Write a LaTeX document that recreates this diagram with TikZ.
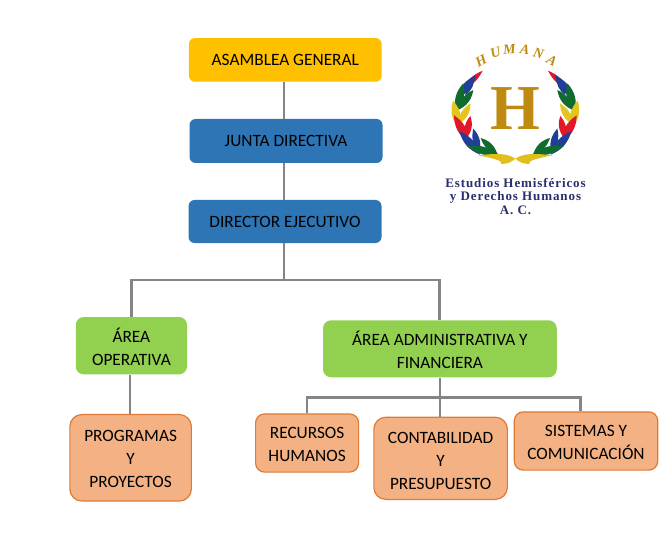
\documentclass[tikz,border=0pt]{standalone}
\usepackage{fontspec}
\setmainfont{Carlito}
\newfontfamily\logofont[LetterSpace=7]{Liberation Serif}
\newfontfamily\logoserif{Liberation Serif}
\usetikzlibrary{calc}
\definecolor{cYellow}{HTML}{FFC000}
\definecolor{cBlue}{HTML}{2E75B6}
\definecolor{cGreen}{HTML}{92D050}
\definecolor{cOrange}{HTML}{F4B183}
\definecolor{cOrangeEdge}{HTML}{DD7B36}
\definecolor{cLine}{HTML}{858585}
\definecolor{cGold}{HTML}{BE8A10}
\definecolor{cRibbon}{HTML}{E2BE1C}
\definecolor{cNavy}{HTML}{2A2E6E}
\definecolor{lRed}{HTML}{E3172A}
\definecolor{lBlue}{HTML}{1F3F98}
\definecolor{lGreen}{HTML}{0F6B2E}
\definecolor{lYellow}{HTML}{E3C51E}
\tikzset{
  x=1pt,y=-1pt,
  orgbox/.style={rounded corners=6pt,inner sep=0pt,align=center,text=black,
    font=\fontsize{17.3}{23}\selectfont},
  toptier/.style={orgbox,fill=cYellow},
  bluetier/.style={orgbox,fill=cBlue},
  greentier/.style={orgbox,fill=cGreen,rounded corners=8pt},
  orangetier/.style={orgbox,fill=cOrange,draw=cOrangeEdge,line width=1.2pt,rounded corners=10pt},
  link/.style={draw=cLine,line width=2pt},
  barlink/.style={draw=cLine,line width=2.6pt},
  hletter/.style={text=cGold,inner sep=0pt,font=\logoserif\bfseries\itshape\fontsize{14}{14}\selectfont},
  logoline/.style={text=cNavy,inner sep=0pt,font=\logofont\bfseries\fontsize{13}{13}\selectfont}
}
\newcommand{\dn}[1]{\rule{0pt}{#1pt}}
\newcommand{\leaf}[5]{\fill[#5] (#1,#2) to[bend left=#4] (#3) to[bend left=#4] (#1,#2);}
\newcommand{\wreathside}{%
  \leaf{-160}{180}{-98,122}{20}{lRed}
  \leaf{-176}{205}{-118,136}{26}{lBlue}
  \leaf{-150}{195}{-124,140}{30}{lBlue}
  \leaf{-178}{245}{-156,160}{28}{lGreen}
  \leaf{-172}{240}{-126,180}{28}{lGreen}
  \leaf{-168}{296}{-187,212}{30}{lYellow}
  \leaf{-172}{284}{-134,220}{28}{lYellow}
  \leaf{-140}{336}{-184,256}{28}{lRed}
  \leaf{-148}{326}{-135,258}{30}{lRed}
  \leaf{-106}{374}{-168,304}{26}{lBlue}
  \leaf{-108}{368}{-126,296}{28}{lBlue}
  \leaf{-46}{376}{-146,348}{22}{lGreen}
  \leaf{-54}{372}{-104,324}{28}{lGreen}
  \fill[cRibbon] (-112,376) .. controls (-70,372) and (-30,366) .. (0,386) .. controls (-10,396) and (-25,402) .. (-42,402) .. controls (-35,392) and (-70,384) .. cycle;
}
\begin{document}
\begin{tikzpicture}
\useasboundingbox[fill=white] (0,0) rectangle (663,545);

% boxes
\node[toptier,minimum width=192.7pt,minimum height=43.7pt] (asm) at (285.3,59.9) {ASAMBLEA GENERAL};
\node[bluetier,minimum width=193pt,minimum height=44pt] (jun) at (286,141) {JUNTA DIRECTIVA};
\node[bluetier,minimum width=193pt,minimum height=43pt] (dir) at (285,221.5) {DIRECTOR EJECUTIVO};
\node[greentier,minimum width=111.3pt,minimum height=57.3pt] (ope) at (131.4,345.7) {\dn{17}ÁREA\\OPERATIVA};
\node[greentier,minimum width=233.7pt,minimum height=57pt] (adm) at (439.9,348.8) {\dn{17}ÁREA ADMINISTRATIVA Y\\FINANCIERA};
\node[orangetier,minimum width=121.5pt,minimum height=86.5pt,rounded corners=12pt] (pro) at (130.6,457.8) {\dn{13}PROGRAMAS\\Y\\PROYECTOS};
\node[orangetier,minimum width=103pt,minimum height=58.2pt,rounded corners=9pt] (rec) at (307.1,443) {\dn{15}RECURSOS\\HUMANOS};
\node[orangetier,minimum width=133.5pt,minimum height=82.2pt,rounded corners=12pt] (con) at (440.6,458.3) {\dn{17}CONTABILIDAD\\Y\\PRESUPUESTO};
\node[orangetier,minimum width=143.5pt,minimum height=58.2pt,rounded corners=9pt] (sis) at (586,441) {\dn{15}SISTEMAS Y\\COMUNICACIÓN};

% reference points for the connector bars
\coordinate (trunk) at (284,0);
\coordinate (midbar) at (0,280);
\coordinate (lowbar) at (0,397.7);
\coordinate (opeX) at (131.7,0);
\coordinate (admX) at (439.3,0);
\coordinate (admDown) at (440.3,0);
\coordinate (proX) at (130,0);
\coordinate (sisX) at (580.7,0);

% connectors
\draw[link] (asm.south -| trunk) -- (jun.north -| trunk);
\draw[link] (jun.south -| trunk) -- (dir.north -| trunk);
\draw[link] (dir.south -| trunk) -- (midbar -| trunk);
\draw[barlink] (ope.north -| opeX) -- (midbar -| opeX) -- (midbar -| admX) -- (adm.north -| admX);
\draw[link] (ope.south -| proX) -- (pro.north -| proX);
\draw[link] (adm.south -| admDown) -- (con.north -| admDown);
\draw[barlink] (rec.north) -- (lowbar -| rec.north) -- (lowbar -| sisX) -- (sis.north -| sisX);

% logo
\begin{scope}[shift={(515.33pt,-30pt)},x=0.3333pt,y=-0.3333pt]
  \wreathside
\end{scope}
\begin{scope}[shift={(515.33pt,-30pt)},x=-0.3333pt,y=-0.3333pt]
  \wreathside
\end{scope}
\node[text=cGold,inner sep=0pt,font=\logoserif\bfseries\fontsize{64}{64}\selectfont] (bigh) at (515.3,108.5) {H};
\node[hletter,rotate=28] (h1) at (481,60.5) {H};
\node[hletter,rotate=18] (h2) at (495.5,53) {U};
\node[hletter,rotate=5] (h3) at (509.5,49.5) {M};
\node[hletter,rotate=-8] (h4) at (525,49.5) {A};
\node[hletter,rotate=-16] (h5) at (538.5,53) {N};
\node[hletter,rotate=-28] (h6) at (552,61) {A};
\node[logoline] (l1) at (515.5,183.5) {Estudios Hemisféricos};
\node[logoline] (l2) at (515.5,197.5) {y Derechos Humanos};
\node[logoline] (l3) at (515.5,210.5) {A. C.};
\end{tikzpicture}
\end{document}
